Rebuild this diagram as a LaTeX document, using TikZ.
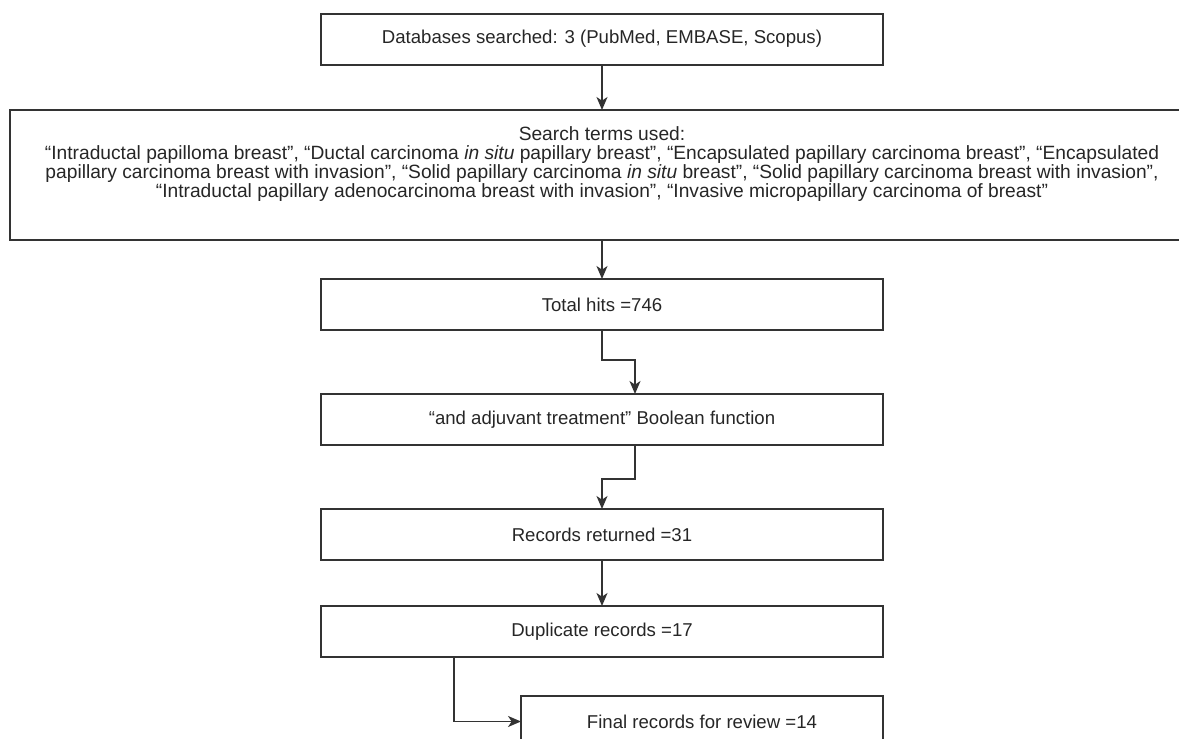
\documentclass[tikz,border=0pt]{standalone}
\usepackage{fontspec}
\setmainfont{Liberation Sans}
\usetikzlibrary{arrows.meta,positioning}

\begin{document}
\begin{tikzpicture}[->,>={Stealth[length=6.5pt,width=5.5pt,inset=1.8pt]},x=0.5pt,y=-0.5pt,
        thick,draw=black!80,
        flow box/.style={rectangle,draw=black!80,line width=1pt,minimum width=281pt,minimum height=25.5pt,
            inner sep=0pt,outer sep=0pt,font=\fontsize{9.3}{11}\selectfont,text=black!85}]

    \useasboundingbox (0,0) rectangle (1179,739);

    \node[flow box] (db) at (602,39) {Databases searched: 3 (PubMed, EMBASE, Scopus)};
    \node[flow box,minimum width=592pt,minimum height=65pt] (terms) [below=22.75pt of db] {};
    \node[font=\fontsize{9.6}{9.5}\selectfont,text=black!85,align=center,inner sep=0pt] (termstext)
        at ([yshift=5.6pt]terms.center)
        {Search terms used:\\
        “Intraductal papilloma breast”, “Ductal carcinoma \textit{in situ} papillary breast”, “Encapsulated papillary carcinoma breast”, “Encapsulated\\
        papillary carcinoma breast with invasion”, “Solid papillary carcinoma \textit{in situ} breast”, “Solid papillary carcinoma breast with invasion”,\\
        “Intraductal papillary adenocarcinoma breast with invasion”, “Invasive micropapillary carcinoma of breast”};
    \node[flow box] (hits) [below=19.5pt of terms] {Total hits =746};
    \node[flow box] (bool) [below=32pt of hits] {“and adjuvant treatment” Boolean function};
    \node[flow box] (ret) [below=32pt of bool] {Records returned =31};
    \node[flow box] (dup) [below=23pt of ret] {Duplicate records =17};
    \node[flow box,minimum width=181pt] (final) [below=19.5pt of dup,xshift=50pt] {Final records for review =14};

    \draw (db) -- (terms);
    \draw (terms) -- (hits);
    \draw (hits.south) -- ++(0,-15pt) -| ([xshift=16.5pt]bool.north);
    \draw ([xshift=16.5pt]bool.south) -- ++(0,-17pt) -| (ret.north);
    \draw (ret) -- (dup);
    \draw ([xshift=-74pt]dup.south) |- (final.west);
\end{tikzpicture}
\end{document}
